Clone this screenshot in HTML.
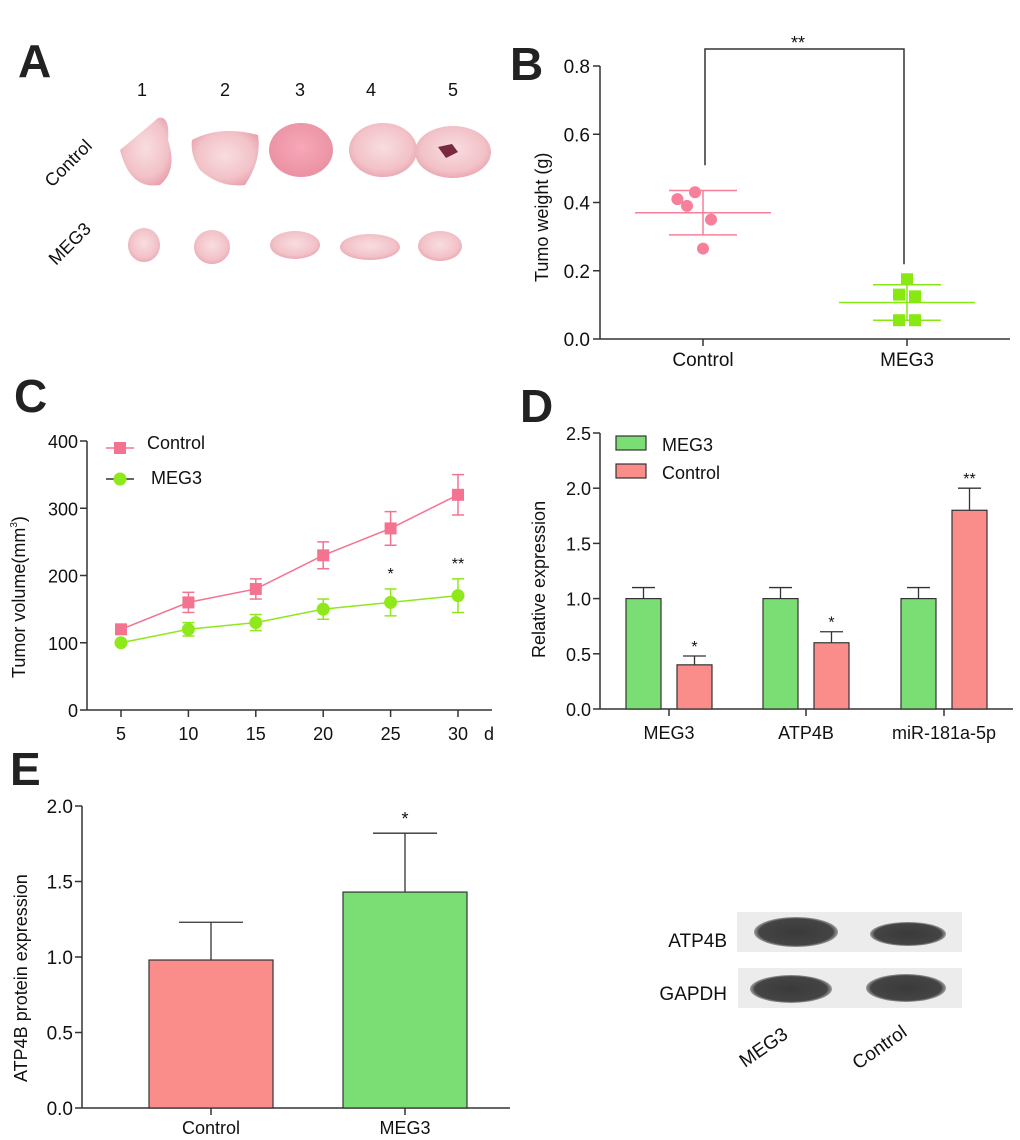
<!DOCTYPE html>
<html><head><meta charset="utf-8"><style>
body{margin:0;background:#fff;}
svg{display:block;font-family:"Liberation Sans",Arial,sans-serif;}
</style></head><body>
<svg id="fig" width="1020" height="1140" viewBox="0 0 1020 1140" xmlns="http://www.w3.org/2000/svg">
<defs>
<radialGradient id="tum" cx="50%" cy="45%" r="60%"><stop offset="0" stop-color="#f8dde0"/><stop offset="0.7" stop-color="#f2c2c8"/><stop offset="1" stop-color="#e8a0ac"/></radialGradient>
<radialGradient id="tum3" cx="50%" cy="45%" r="60%"><stop offset="0" stop-color="#f7a8b8"/><stop offset="1" stop-color="#e98fa2"/></radialGradient>
<radialGradient id="band" cx="50%" cy="50%" r="55%"><stop offset="0" stop-color="#3a3a3a"/><stop offset="0.8" stop-color="#444"/><stop offset="1" stop-color="#888" stop-opacity="0.3"/></radialGradient>
</defs>
<g>
<text x="18" y="77" font-size="46" font-weight="bold" fill="#222">A</text>
<g font-size="18" fill="#111">
<text x="142" y="96" text-anchor="middle">1</text>
<text x="225" y="96" text-anchor="middle">2</text>
<text x="300" y="96" text-anchor="middle">3</text>
<text x="371" y="96" text-anchor="middle">4</text>
<text x="453" y="96" text-anchor="middle">5</text>
<text transform="translate(52,188) rotate(-45)">Control</text>
<text transform="translate(56,266) rotate(-45)">MEG3</text>
</g>
<g>
<path d="M120,150 Q150,125 158,118 Q170,115 168,140 Q178,170 160,185 Q130,190 120,150Z" fill="url(#tum)"/>
<path d="M192,140 Q220,125 258,135 Q262,160 245,185 Q220,188 200,170 Q190,155 192,140Z" fill="url(#tum)"/>
<ellipse cx="301" cy="150" rx="32" ry="27" fill="url(#tum3)"/>
<ellipse cx="383" cy="150" rx="34" ry="27" fill="url(#tum)"/>
<ellipse cx="453" cy="152" rx="38" ry="26" fill="url(#tum)"/>
<path d="M438,147 l14,-3 l6,8 l-12,6Z" fill="#7a2a40"/>
<ellipse cx="144" cy="245" rx="16" ry="17" fill="url(#tum)"/>
<ellipse cx="212" cy="247" rx="18" ry="17" fill="url(#tum)"/>
<ellipse cx="295" cy="245" rx="25" ry="14" fill="url(#tum)"/>
<ellipse cx="370" cy="247" rx="30" ry="13" fill="url(#tum)"/>
<ellipse cx="440" cy="246" rx="22" ry="15" fill="url(#tum)"/>
</g>
</g>
<g id="pb">
<text x="510" y="80" font-size="46" font-weight="bold" fill="#222">B</text>
</g>
<g id="pc">
<text x="14" y="412" font-size="46" font-weight="bold" fill="#222">C</text>
</g>
<g id="pd">
<text x="520" y="422" font-size="46" font-weight="bold" fill="#222">D</text>
</g>
<g id="pe">
<text x="10" y="785" font-size="46" font-weight="bold" fill="#222">E</text>
</g>
<g>
<rect x="737" y="912" width="225" height="40" fill="#ececec"/>
<rect x="738" y="968" width="224" height="40" fill="#ececec"/>
<ellipse cx="796" cy="932" rx="42" ry="15" fill="url(#band)"/>
<ellipse cx="908" cy="934" rx="38" ry="12" fill="url(#band)"/>
<ellipse cx="791" cy="989" rx="41" ry="14" fill="url(#band)"/>
<ellipse cx="906" cy="988" rx="40" ry="14" fill="url(#band)"/>
<g font-size="19" fill="#111">
<text x="727" y="947" text-anchor="end">ATP4B</text>
<text x="727" y="1000" text-anchor="end">GAPDH</text>
<text transform="translate(745,1068) rotate(-35)">MEG3</text>
<text transform="translate(858,1070) rotate(-35)">Control</text>
</g>
</g>
</svg>
<script>
// ---- Panel B data ----
const bGroups = ['Control','MEG3'];
const bControlPts = [0.43,0.41,0.39,0.35,0.265];
const bControlOff = [-0.5,-1.6,-1,0.5,0];
const bMegPts = [0.175,0.13,0.125,0.055,0.055];
const bMegOff = [0,-0.5,0.5,-0.5,0.5];
const bMeans = [0.37,0.107];
const bSD = [0.065,0.052];
const bTicks = [0.0,0.2,0.4,0.6,0.8];
// ---- Panel C data ----
const cDays = [5,10,15,20,25,30];
const cControl = [120,160,180,230,270,320];
const cControlErr = [5,15,15,20,25,30];
const cMeg = [100,120,130,150,160,170];
const cMegErr = [3,10,12,15,20,25];
const cTicks = [0,100,200,300,400];
const cSig = ['','','','','*','**'];
// ---- Panel D data ----
const dGenes = ['MEG3','ATP4B','miR-181a-5p'];
const dMeg = [1.0,1.0,1.0];
const dMegErr = [0.1,0.1,0.1];
const dCtrl = [0.4,0.6,1.8];
const dCtrlErr = [0.08,0.1,0.2];
const dTicks = [0.0,0.5,1.0,1.5,2.0,2.5];
const dSig = ['*','*','**'];
// ---- Panel E data ----
const eGroups = ['Control','MEG3'];
const eVals = [0.98,1.43];
const eErr = [0.25,0.39];
const eTicks = [0.0,0.5,1.0,1.5,2.0];

const NS='http://www.w3.org/2000/svg';
function mk(parent,tag,attrs,text){const e=document.createElementNS(NS,tag);for(const k in attrs)e.setAttribute(k,attrs[k]);if(text!==undefined)e.textContent=text;parent.appendChild(e);return e;}
function fmt(v,d){return v.toFixed(d);}

(function(){
const g=document.getElementById('pb');
const y=v=>339-v/0.8*273; const xs=[703,907]; const x0=600,x1=1010;
let e=mk(g,'line',{x1:x0,y1:y(0),x2:x1,y2:y(0),stroke:'#333','stroke-width':1.5});


e=mk(g,'line',{x1:x0,y1:y(0),x2:x0,y2:y(0.8),stroke:'#333','stroke-width':1.5});


bTicks.forEach(t=>{mk(g,'line',{x1:x0-7,y1:y(t),x2:x0,y2:y(t),stroke:'#333','stroke-width':1.5});
e=mk(g,'text',{x:x0-10,y:y(t)+7,'font-size':19,'text-anchor':'end',fill:'#111'},fmt(t,1));

});
bGroups.forEach((n,i)=>{mk(g,'line',{x1:xs[i],y1:y(0),x2:xs[i],y2:y(0)+7,stroke:'#333','stroke-width':1.5});
e=mk(g,'text',{x:xs[i],y:366,'font-size':19,'text-anchor':'middle',fill:'#111'},n);

});
e=mk(g,'text',{transform:'translate(548,282) rotate(-90)','font-size':18,fill:'#111'},'Tumo weight (g)');


const cols=['#f77f99','#88e812'];
[bControlPts,bMegPts].forEach((pts,i)=>{
 const c=cols[i],cx=xs[i];
 mk(g,'line',{x1:cx-68,y1:y(bMeans[i]),x2:cx+68,y2:y(bMeans[i]),stroke:c,'stroke-width':1.5});
 mk(g,'line',{x1:cx-34,y1:y(bMeans[i]+bSD[i]),x2:cx+34,y2:y(bMeans[i]+bSD[i]),stroke:c,'stroke-width':1.5});
 mk(g,'line',{x1:cx-34,y1:y(bMeans[i]-bSD[i]),x2:cx+34,y2:y(bMeans[i]-bSD[i]),stroke:c,'stroke-width':1.5});
 mk(g,'line',{x1:cx,y1:y(bMeans[i]+bSD[i]),x2:cx,y2:y(bMeans[i]-bSD[i]),stroke:c,'stroke-width':1.5});
 const offs=i===0?bControlOff:bMegOff;
 pts.forEach((v,j)=>{const px=cx+offs[j]*16;
  if(i===0){e=mk(g,'circle',{cx:px,cy:y(v),r:6,fill:c});}
  else{e=mk(g,'rect',{x:px-6,y:y(v)-6,width:12,height:12,fill:c});}
  
  });
});
e=mk(g,'path',{d:`M705,${y(0.43)-27} V49 H904 V${y(0.175)-15}`,fill:'none',stroke:'#333','stroke-width':1.5});


e=mk(g,'text',{x:798,y:49,'font-size':18,'text-anchor':'middle',fill:'#111'},'**');


})();

(function(){
const g=document.getElementById('pc');
const y=v=>710-v/400*269; const x=d=>121+(d-5)/25*337; const x0=87,x1=492;
let e=mk(g,'line',{x1:x0,y1:710,x2:x1,y2:710,stroke:'#333','stroke-width':1.5});


e=mk(g,'line',{x1:x0,y1:710,x2:x0,y2:y(400),stroke:'#333','stroke-width':1.5});


cTicks.forEach(t=>{mk(g,'line',{x1:x0-7,y1:y(t),x2:x0,y2:y(t),stroke:'#333','stroke-width':1.5});
e=mk(g,'text',{x:x0-9,y:y(t)+7,'font-size':18,'text-anchor':'end',fill:'#111'},t);

});
cDays.forEach(d=>{mk(g,'line',{x1:x(d),y1:710,x2:x(d),y2:717,stroke:'#333','stroke-width':1.5});
e=mk(g,'text',{x:x(d),y:740,'font-size':18,'text-anchor':'middle',fill:'#111'},d);

});
e=mk(g,'text',{x:484,y:740,'font-size':18,fill:'#111'},'d');


e=mk(g,'text',{transform:'translate(25,678) rotate(-90)','font-size':18,fill:'#111'});
e.innerHTML='Tumor volume(mm<tspan dy="-8" font-size="10">3</tspan><tspan dy="8">)</tspan>';


const series=[[cControl,cControlErr,'#f47391','sq','c-control'],[cMeg,cMegErr,'#8ee81a','ci','c-meg3']];
series.forEach(([vals,err,c,sh,nm])=>{
 e=mk(g,'polyline',{points:cDays.map((d,i)=>x(d)+','+y(vals[i])).join(' '),fill:'none',stroke:c,'stroke-width':1.5});
 
 
 cDays.forEach((d,i)=>{const px=x(d),py=y(vals[i]);
  mk(g,'line',{x1:px,y1:y(vals[i]+err[i]),x2:px,y2:y(vals[i]-err[i]),stroke:c,'stroke-width':1.5});
  mk(g,'line',{x1:px-6,y1:y(vals[i]+err[i]),x2:px+6,y2:y(vals[i]+err[i]),stroke:c,'stroke-width':1.5});
  mk(g,'line',{x1:px-6,y1:y(vals[i]-err[i]),x2:px+6,y2:y(vals[i]-err[i]),stroke:c,'stroke-width':1.5});
  e=sh==='sq'?mk(g,'rect',{x:px-6,y:py-6,width:12,height:12,fill:c}):mk(g,'circle',{cx:px,cy:py,r:6.5,fill:c});
  
  });
});
cDays.forEach((d,i)=>{if(cSig[i]){e=mk(g,'text',{x:x(d),y:y(cMeg[i]+cMegErr[i])-10,'font-size':16,'text-anchor':'middle',fill:'#111'},cSig[i]);

}});
mk(g,'line',{x1:106,y1:448,x2:134,y2:448,stroke:'#f47391','stroke-width':1.5});
mk(g,'rect',{x:114,y:442,width:12,height:12,fill:'#f47391'});
e=mk(g,'text',{x:147,y:449,'font-size':18,fill:'#111'},'Control');


mk(g,'line',{x1:106,y1:479,x2:134,y2:479,stroke:'#333','stroke-width':1.5});
mk(g,'circle',{cx:120,cy:479,r:6.5,fill:'#8ee81a'});
e=mk(g,'text',{x:151,y:484,'font-size':18,fill:'#111'},'MEG3');


})();

(function(){
const g=document.getElementById('pd');
const y=v=>709-v/2.5*276; const x0=600,x1=1013; const centers=[669,806,944];
let e=mk(g,'line',{x1:x0,y1:709,x2:x1,y2:709,stroke:'#333','stroke-width':1.5});


e=mk(g,'line',{x1:x0,y1:709,x2:x0,y2:y(2.5),stroke:'#333','stroke-width':1.5});


dTicks.forEach(t=>{mk(g,'line',{x1:x0-7,y1:y(t),x2:x0,y2:y(t),stroke:'#333','stroke-width':1.5});
e=mk(g,'text',{x:x0-9,y:y(t)+7,'font-size':18,'text-anchor':'end',fill:'#111'},fmt(t,1));

});
e=mk(g,'text',{transform:'translate(545,658) rotate(-90)','font-size':18,fill:'#111'},'Relative expression');


dGenes.forEach((n,i)=>{const c=centers[i];
 mk(g,'line',{x1:c,y1:709,x2:c,y2:716,stroke:'#333','stroke-width':1.5});
 e=mk(g,'text',{x:c,y:739,'font-size':18,'text-anchor':'middle',fill:'#111'},n);
 
 
 [[dMeg,dMegErr,'#7ade74',-43,'d-bar-meg3'],[dCtrl,dCtrlErr,'#fa8c8a',8,'d-bar-control']].forEach(([v,er,col,off,nm])=>{
  const bx=c+off;
  mk(g,'line',{x1:bx+17.5,y1:y(v[i]),x2:bx+17.5,y2:y(v[i]+er[i]),stroke:'#333','stroke-width':1.3});
  mk(g,'line',{x1:bx+6,y1:y(v[i]+er[i]),x2:bx+29,y2:y(v[i]+er[i]),stroke:'#333','stroke-width':1.3});
  e=mk(g,'rect',{x:bx,y:y(v[i]),width:35,height:709-y(v[i]),fill:col,stroke:'#333','stroke-width':1.2});
  
  
 });
 e=mk(g,'text',{x:c+25.5,y:y(dCtrl[i]+dCtrlErr[i])-4,'font-size':16,'text-anchor':'middle',fill:'#111'},dSig[i]);
 
 
});
mk(g,'rect',{x:616,y:436,width:30,height:14,fill:'#7ade74',stroke:'#333','stroke-width':1.2});
e=mk(g,'text',{x:662,y:451,'font-size':18,fill:'#111'},'MEG3');


mk(g,'rect',{x:616,y:464,width:30,height:14,fill:'#fa8c8a',stroke:'#333','stroke-width':1.2});
e=mk(g,'text',{x:662,y:479,'font-size':18,fill:'#111'},'Control');


})();

(function(){
const g=document.getElementById('pe');
const y=v=>1108-v/2*302; const x0=82,x1=510; const xs=[211,405]; const cols=['#fa8c8a','#7ade74'];
let e=mk(g,'line',{x1:x0,y1:1108,x2:x1,y2:1108,stroke:'#333','stroke-width':1.5});


e=mk(g,'line',{x1:x0,y1:1108,x2:x0,y2:y(2),stroke:'#333','stroke-width':1.5});


eTicks.forEach(t=>{mk(g,'line',{x1:x0-7,y1:y(t),x2:x0,y2:y(t),stroke:'#333','stroke-width':1.5});
e=mk(g,'text',{x:x0-9,y:y(t)+7,'font-size':19,'text-anchor':'end',fill:'#111'},fmt(t,1));

});
e=mk(g,'text',{transform:'translate(27,1082) rotate(-90)','font-size':18,fill:'#111'},'ATP4B protein expression');


eGroups.forEach((n,i)=>{const c=xs[i];
 mk(g,'line',{x1:c,y1:y(eVals[i]),x2:c,y2:y(eVals[i]+eErr[i]),stroke:'#333','stroke-width':1.3});
 mk(g,'line',{x1:c-32,y1:y(eVals[i]+eErr[i]),x2:c+32,y2:y(eVals[i]+eErr[i]),stroke:'#333','stroke-width':1.3});
 e=mk(g,'rect',{x:c-62,y:y(eVals[i]),width:124,height:1108-y(eVals[i]),fill:cols[i],stroke:'#333','stroke-width':1.2});
 
 
 mk(g,'line',{x1:c,y1:1108,x2:c,y2:1115,stroke:'#333','stroke-width':1.5});
 e=mk(g,'text',{x:c,y:1134,'font-size':18,'text-anchor':'middle',fill:'#111'},n);
 
 
});
e=mk(g,'text',{x:xs[1],y:y(eVals[1]+eErr[1])-8,'font-size':18,'text-anchor':'middle',fill:'#111'},'*');


})();
</script>
</body></html>
